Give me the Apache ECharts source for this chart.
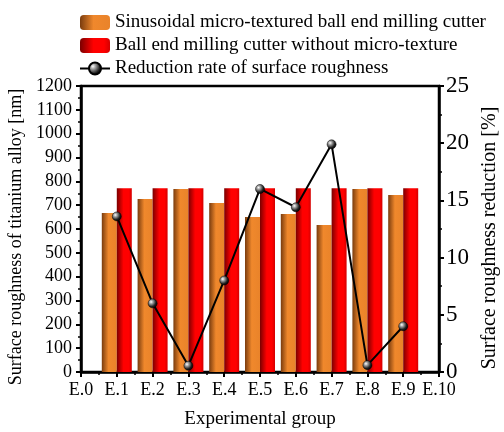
<!DOCTYPE html>
<html>
<head>
<meta charset="utf-8">
<script src="https://cdn.jsdelivr.net/npm/echarts@6/dist/echarts.min.js"></script>
<style>html,body{margin:0;padding:0;background:#fff}#c{width:504px;height:432px}</style>
</head>
<body>
<div id="c"></div>
<script>
const categories = ['E.0','E.1','E.2','E.3','E.4','E.5','E.6','E.7','E.8','E.9','E.10'];
const groupIndex = [1,2,3,4,5,6,7,8,9];
const texturedValues = [667, 726, 768, 709, 650, 663, 617, 768, 743];
const plainValues = [771, 771, 771, 771, 771, 771, 771, 771, 771];
const reductionValues = [13.6, 6.0, 0.55, 8.0, 16.0, 14.4, 19.9, 0.6, 4.0];
const seriesNames = ['Sinusoidal micro-textured ball end milling cutter','Ball end milling cutter without micro-texture','Reduction rate of surface roughness'];

const FONT = 'Liberation Serif';
const chart = echarts.init(document.getElementById('c'), null, {renderer:'canvas'});
const orangeGrad = new echarts.graphic.LinearGradient(0,0,1,0,[
  {offset:0,color:'#7a3c0e'},{offset:0.45,color:'#f0882c'},{offset:1,color:'#e9832a'}]);
const redGrad = new echarts.graphic.LinearGradient(0,0,1,0,[
  {offset:0,color:'#7a0000'},{offset:0.45,color:'#ff0000'},{offset:0.8,color:'#ff0000'},{offset:1,color:'#d40000'}]);
const sphere = new echarts.graphic.RadialGradient(0.35,0.35,0.7,[
  {offset:0,color:'#ffffff'},{offset:0.25,color:'#a8a8a8'},{offset:0.7,color:'#202020'},{offset:1,color:'#000000'}]);
const axisLine = {show:true,lineStyle:{color:'#000',width:2.5}};
const labelStyle = {color:'#000',fontFamily:FONT,fontSize:18};
const nameStyle = {color:'#000',fontFamily:FONT,fontSize:19};
chart.setOption({
  animation:false,
  grid:{left:81,right:65,top:86,bottom:60,containLabel:false,outerBoundsMode:'none',
    show:true,borderColor:'#000',borderWidth:2.5,backgroundColor:'transparent'},
  legend:{
    orient:'vertical',left:74,top:13,itemWidth:30,itemHeight:15,itemGap:4,padding:[0,5],
    textStyle:{color:'#000',fontFamily:FONT,fontSize:19,lineHeight:15},
    data:seriesNames
  },
  xAxis:{
    type:'value',min:0,max:10,interval:1,
    name:'Experimental group',nameLocation:'middle',nameGap:38,nameTextStyle:nameStyle,
    axisLine:axisLine,
    axisTick:{show:true,inside:false,length:5,lineStyle:{color:'#000',width:2}},
    minorTick:{show:true,splitNumber:2,length:3,lineStyle:{color:'#000',width:1.5}},
    axisLabel:Object.assign({margin:9,formatter:v=>categories[v]},labelStyle),
    splitLine:{show:false}
  },
  yAxis:[{
    type:'value',min:0,max:1200,interval:100,
    name:'Surface roughness of titanium alloy [nm]',nameLocation:'middle',nameGap:55,
    nameTextStyle:Object.assign({padding:[0,16,0,0]},nameStyle,{fontSize:18}),
    axisLine:axisLine,
    axisTick:{show:true,inside:false,length:5,lineStyle:{color:'#000',width:2}},
    minorTick:{show:true,splitNumber:2,length:3,lineStyle:{color:'#000',width:1.5}},
    axisLabel:Object.assign({margin:9,formatter:v=>String(v)},labelStyle),
    splitLine:{show:false}
  },{
    type:'value',min:0,max:25,interval:5,position:'right',
    name:'Surface roughness reduction [%]',nameLocation:'middle',nameGap:40,
    nameTextStyle:Object.assign({padding:[0,18,0,0]},nameStyle,{fontSize:20}),
    axisLine:axisLine,
    axisTick:{show:true,inside:false,length:5,lineStyle:{color:'#000',width:2}},
    minorTick:{show:true,splitNumber:2,length:3,lineStyle:{color:'#000',width:1.5}},
    axisLabel:Object.assign({margin:7},labelStyle,{fontSize:23}),
    splitLine:{show:false}
  }],
  series:[{
    name:seriesNames[0],type:'bar',barWidth:15,barGap:'0%',
    itemStyle:{color:orangeGrad},
    data:groupIndex.map((x,i)=>[x,texturedValues[i]])
  },{
    name:seriesNames[1],type:'bar',barWidth:15,barGap:'0%',
    itemStyle:{color:redGrad},
    data:groupIndex.map((x,i)=>[x,plainValues[i]])
  },{
    name:seriesNames[2],type:'line',yAxisIndex:1,
    symbol:'circle',symbolSize:9,
    lineStyle:{color:'#000',width:2},
    itemStyle:{color:sphere,borderColor:'#000',borderWidth:0.5},
    data:groupIndex.map((x,i)=>[x,reductionValues[i]]),
    z:5
  }]
});
</script>
</body>
</html>
